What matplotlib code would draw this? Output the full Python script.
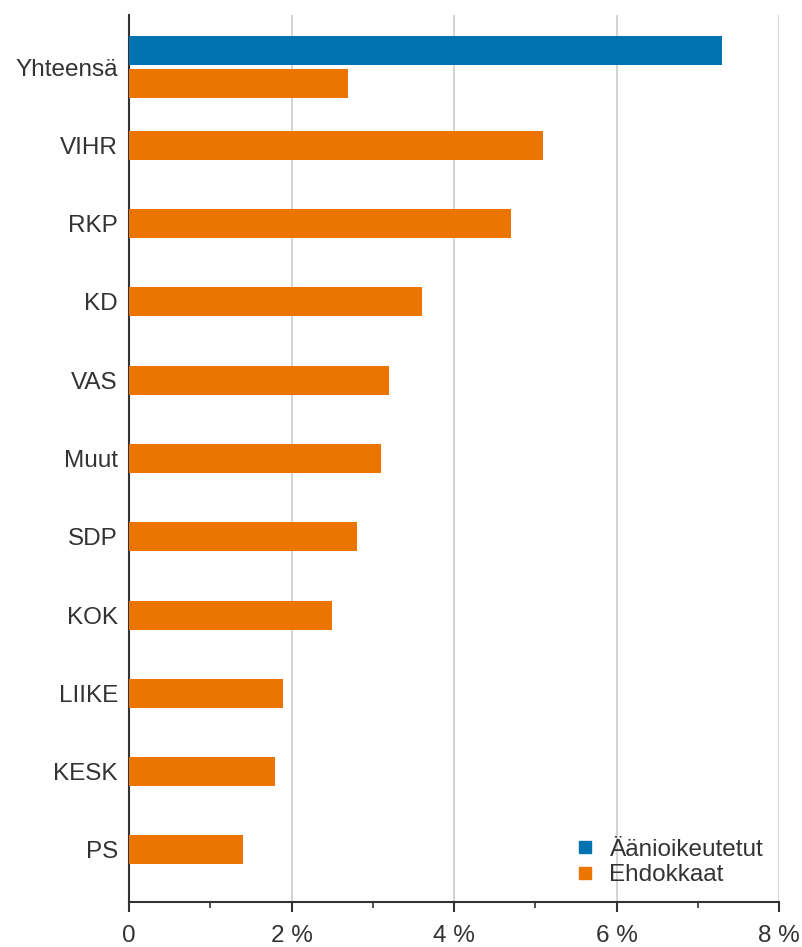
import numpy as np
import matplotlib
matplotlib.use("Agg")
import matplotlib.pyplot as plt
from matplotlib.ticker import MultipleLocator, FuncFormatter

categories = ["Yhteensä", "VIHR", "RKP", "KD", "VAS", "Muut", "SDP", "KOK", "LIIKE", "KESK", "PS"]
aanioikeutetut = [7.3, None, None, None, None, None, None, None, None, None, None]
ehdokkaat = [2.7, 5.1, 4.7, 3.6, 3.2, 3.1, 2.8, 2.5, 1.9, 1.8, 1.4]

BLUE = "#0073B0"
ORANGE = "#EB7500"
FS = 17.5

plt.rcParams['font.family'] = ['Liberation Sans', 'DejaVu Sans']

fig = plt.figure(figsize=(8.02, 9.47), dpi=100)
ax = fig.add_axes([129 / 802, 1 - 902 / 947, 650 / 802, 887 / 947])

h = 0.37
off = 0.215
y = np.arange(len(categories))
for i in range(len(categories)):
    a = aanioikeutetut[i]
    e = ehdokkaat[i]
    if a is not None:
        ax.barh(y[i] - off, a, height=h, color=BLUE, zorder=3)
        ax.barh(y[i] + off, e, height=h, color=ORANGE, zorder=3)
    else:
        ax.barh(y[i], e, height=h, color=ORANGE, zorder=3)

ax.set_ylim(len(categories) - 0.5 + 0.165, -0.5 - 0.165)
ax.set_xlim(0, 8)
ax.set_yticks(y)
ax.set_yticklabels(categories, fontsize=FS, color="#333333")
ax.tick_params(axis='y', length=0, pad=8)

ax.xaxis.set_major_locator(MultipleLocator(2))
ax.xaxis.set_minor_locator(MultipleLocator(1))
ax.xaxis.set_major_formatter(FuncFormatter(lambda v, p: "0" if v == 0 else f"{v:.0f} %"))
ax.tick_params(axis='x', which='major', direction='out', length=7.5, width=1.5, color="#333333",
               labelsize=FS, labelcolor="#333333", pad=9)
ax.tick_params(axis='x', which='minor', direction='out', length=4, width=1.2, color="#333333")

ax.grid(axis='x', which='major', color="#d0d0d0", linewidth=1.3, zorder=0)
for s in ['top', 'right']:
    ax.spines[s].set_visible(False)
for s in ['left', 'bottom']:
    ax.spines[s].set_color("#333333")
    ax.spines[s].set_linewidth(1.5)

ax.plot([], [], 's', color=BLUE, markersize=9, label="Äänioikeutetut")
ax.plot([], [], 's', color=ORANGE, markersize=9, label="Ehdokkaat")
leg = ax.legend(loc='lower right', bbox_to_anchor=(1.0, 0.0), frameon=False, fontsize=FS,
                handlelength=0.8, handletextpad=0.6, labelspacing=0.15, borderaxespad=0.25)
for t in leg.get_texts():
    t.set_color("#333333")

fig.savefig("out.png", dpi=100)
